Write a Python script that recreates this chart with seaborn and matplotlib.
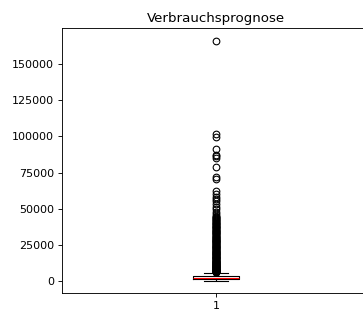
import numpy as np
import matplotlib
matplotlib.use("Agg")
import matplotlib.pyplot as plt
import seaborn as sns

# bulk of the distribution (value, how often it occurs)
body_values = [0, 800, 1500, 1900, 2300, 2800, 3300, 4500, 5900]
body_counts = [50, 150, 100, 200, 100, 200, 100, 80, 20]

# outliers
outliers = [
    6100, 6250, 6400, 6600, 6800, 6950, 7100, 7300, 7500, 7700, 7900, 8050,
    8200, 8400, 8600, 8850, 9100, 9300, 9500, 9700, 9900, 10150, 10400,
    10600, 10800, 11050, 11300, 11500, 11700, 11950, 12200, 12400, 12600,
    12850, 13100, 13300, 13500, 13750, 14000, 14300, 14600, 14850, 15100,
    15400, 15700, 15950, 16200, 16500, 16800, 17050, 17300, 17600, 17900,
    18200, 18500, 18750, 19000, 19300, 19600, 19900, 20200, 20500, 20800,
    21100, 21400, 21700, 22000, 22300, 22600, 22950, 23300, 23600, 23900,
    24200, 24500, 24850, 25200, 25500, 25800, 26150, 26500, 26800, 27100,
    27450, 27800, 28100, 28400, 28750, 29100, 29450, 29800, 30150, 30500,
    30850, 31200, 31550, 31900, 32250, 32600, 32950, 33300, 33700, 34100,
    34450, 34800, 35200, 35600, 36000, 36400, 36800, 37200, 37600, 38000,
    38400, 38800, 39250, 39700, 40100, 40500, 40950, 41400, 41850, 42300,
    42750, 43200, 43650, 44100, 44550, 45000,
    46300, 47600, 49800, 51500, 53400, 55100, 56900, 58400, 60200, 62400,
    70500, 72100, 78600, 84800, 86400, 87100, 91000, 99700, 101800, 166000,
]

values = np.concatenate([np.repeat(body_values, body_counts), outliers])
group = ["1"] * len(values)

fig = plt.figure(figsize=(363 / 80, 311 / 80), dpi=80)
ax = fig.add_axes([61.7 / 363, 17.7 / 311, 308.6 / 363, 264.8 / 311])

sns.boxplot(
    x=group, y=values, ax=ax, width=0.15, fill=False, color="black",
    linewidth=1, fliersize=6,
    medianprops={"color": "red"},
    flierprops={"marker": "o", "markerfacecolor": "none",
                "markeredgecolor": "black"},
)
ax.set_title("Verbrauchsprognose")

fig.savefig("out.png", dpi=80)
